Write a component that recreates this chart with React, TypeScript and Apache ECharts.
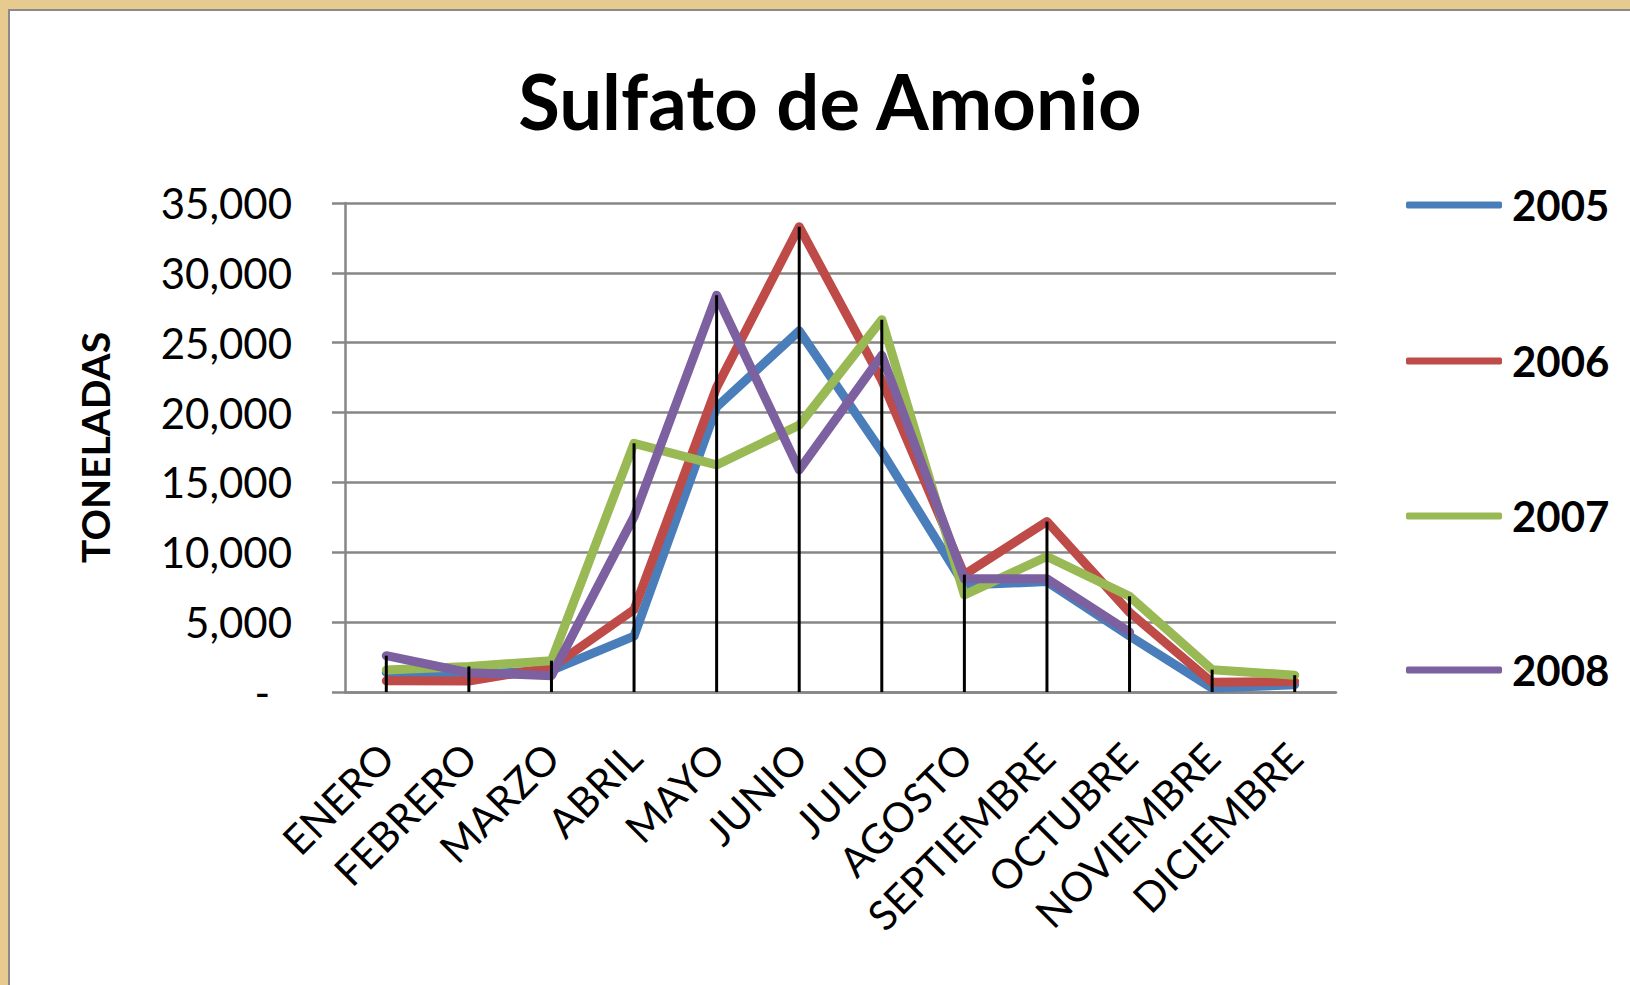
import React, { useEffect, useRef } from "react";
import * as echarts from "echarts";

const months = ["ENERO", "FEBRERO", "MARZO", "ABRIL", "MAYO", "JUNIO", "JULIO", "AGOSTO", "SEPTIEMBRE", "OCTUBRE", "NOVIEMBRE", "DICIEMBRE"];
const s2005 = [1400, 1250, 1550, 4000, 20400, 25850, 17200, 7650, 7900, 4000, 280, 520];
const s2006 = [800, 780, 1760, 5900, 21800, 33300, 22300, 8400, 12200, 5700, 690, 760];
const s2007 = [1580, 1830, 2240, 17800, 16250, 19100, 26650, 6950, 9700, 6850, 1600, 1200];
const s2008 = [2600, 1380, 1170, 12550, 28400, 15900, 24100, 8100, 8100, 4300, null, null];
const yTicks = [0, 5000, 10000, 15000, 20000, 25000, 30000, 35000];
const seriesNames = ["2005", "2006", "2007", "2008"];
const colors = ["#4a7ebb", "#be4b48", "#98b954", "#7d60a0"];

export default function App() {
  const ref = useRef<HTMLDivElement>(null);
  useEffect(() => {
    document.body.style.margin = "0";
    document.body.style.overflow = "hidden";
    const chart = echarts.init(ref.current!, null, { renderer: "svg" });
    const all = [s2005, s2006, s2007, s2008];
    const maxes = months.map((_, i) => {
      const vals = all.map((s) => s[i]).filter((v) => v != null) as number[];
      return [i, Math.max(...vals)];
    });
    const legendTops = [205, 361, 516, 670];
    chart.setOption({
      animation: false,
      backgroundColor: "#e7cb8e",
      graphic: [
        {
          type: "rect",
          z: -10,
          shape: { x: 9, y: 10, width: 1640, height: 1000 },
          style: { fill: "#ffffff", stroke: "#8a8a8a", lineWidth: 2 },
        },
        {
          type: "text",
          z: 10,
          x: 830,
          y: 100,
          style: {
            text: "Sulfato de Amonio",
            font: "bold 76px Lato",
            fill: "#000",
            textAlign: "center",
            textVerticalAlign: "middle",
          },
        },
      ],
      legend: seriesNames.map((n, i) => ({
        data: [n],
        orient: "vertical",
        left: 1406,
        top: legendTops[i] - 25,
        padding: 0,
        icon: "roundRect",
        itemWidth: 96,
        itemHeight: 7,
        textStyle: { fontFamily: "Lato", fontWeight: "bold", fontSize: 42, color: "#000", lineHeight: 50, padding: [0, 0, 0, 5] },
      })),
      grid: { left: 345, right: 294, top: 203, bottom: 293, containLabel: false },
      xAxis: {
        type: "category",
        data: months,
        boundaryGap: true,
        axisLine: { lineStyle: { color: "#868686", width: 2.5 } },
        axisTick: { show: false },
        axisLabel: { rotate: 45, margin: 58, fontFamily: "Lato", fontSize: 41, color: "#000", interval: 0 },
      },
      yAxis: {
        type: "value",
        min: 0,
        max: 35000,
        interval: 5000,
        name: "TONELADAS",
        nameLocation: "middle",
        nameRotate: 90,
        nameGap: 231,
        nameTextStyle: { fontFamily: "Lato", fontWeight: "bold", fontSize: 39, color: "#000" },
        axisLine: { show: true, lineStyle: { color: "#868686", width: 2.5 } },
        axisTick: { show: true, length: 13, lineStyle: { color: "#868686", width: 2.5 } },
        splitLine: { lineStyle: { color: "#868686", width: 2.5 } },
        axisLabel: {
          margin: 53,
          fontFamily: "Lato",
          fontSize: 42,
          color: "#000",
          formatter: (v: number) => (v === 0 ? "{z|-}" : v.toLocaleString("en-US")),
          rich: { z: { fontFamily: "Lato", fontSize: 42, color: "#000", padding: [0, 22, 0, 0] } },
        },
      },
      series: [
        ...all.map((d, i) => ({
          name: seriesNames[i],
          type: "line",
          data: d,
          symbol: "none",
          showSymbol: false,
          connectNulls: false,
          color: colors[i],
          lineStyle: { width: 9, color: colors[i], cap: "round", join: "round" },
          emphasis: { disabled: true },
          z: 2 + i,
        })),
        {
          type: "custom",
          z: 10,
          data: maxes,
          renderItem: (params: any, api: any) => {
            const x = api.value(0);
            const v = api.value(1);
            const top = api.coord([x, v]);
            const bot = api.coord([x, 0]);
            return {
              type: "line",
              shape: { x1: top[0], y1: top[1], x2: bot[0], y2: bot[1] },
              style: { stroke: "#000", lineWidth: 3 },
            };
          },
        },
      ],
    });
    return () => chart.dispose();
  }, []);
  return <div ref={ref} style={{ width: 1630, height: 985 }} />;
}
